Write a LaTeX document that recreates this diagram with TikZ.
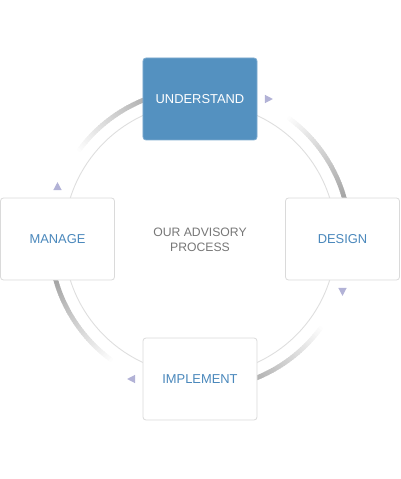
\documentclass[tikz,border=0pt]{standalone}
\usepackage{fontspec}
\setmainfont{Liberation Sans}
\usepackage{xcolor}
\usetikzlibrary{positioning,calc}

\definecolor{stepblue}{RGB}{84,145,192}
\definecolor{labelblue}{RGB}{74,136,188}
\definecolor{ringgray}{RGB}{222,222,222}
\definecolor{framegray}{RGB}{218,218,218}
\definecolor{tipviolet}{RGB}{178,178,214}
\definecolor{centergray}{RGB}{118,118,118}

\begin{document}
\begin{tikzpicture}[
  x=1pt,
  y=1pt,
  ring/.style={draw=ringgray, line width=0.9pt},
  sweep/.style={line width=4.6pt},
  stagebox/.style={draw=framegray, line width=0.8pt, fill=white, rounded corners=3pt,
    minimum width=114pt, minimum height=82pt, inner sep=0pt,
    font=\fontsize{12.9}{15}\selectfont, text=labelblue},
  activebox/.style={stagebox, fill=stepblue, draw=stepblue!75!white, text=white},
  tip/.style={fill=tipviolet},
  caption/.style={font=\fontsize{12.2}{15}\selectfont, text=centergray, align=center}
]

% Canvas: origin at the centre of the cycle, 400 x 479 overall.
\useasboundingbox (-200,-240) rectangle (200,239);

% Thin ring through the four stages.
\draw[ring] (0,0) circle (136pt);

% Thick arcs, faded at the start and darker towards the next stage (clockwise).
\foreach \s in {145,55,-35,-125} {
  \foreach \i in {0,...,39} {
    \pgfmathsetmacro{\shade}{36*\i/39}
    \draw[sweep, draw=black!\shade] (\s-\i:150) arc[start angle=\s-\i, end angle=\s-\i-1.4, radius=150pt];
  }
}

% Stages.
\node[activebox] (und) at (0,140) {UNDERSTAND};
\node[stagebox] (des) at (142.5,0) {DESIGN};
\node[stagebox] (imp) at (0,-140) {IMPLEMENT};
\node[stagebox] (man) at (-142.5,0) {MANAGE};

\node[caption] (core) at (0,-1) {OUR ADVISORY\\PROCESS};

% Small direction tips beside each stage.
\foreach \b/\a in {und/0,des/-90,imp/180,man/90} {
  \fill[tip, shift={($(\b.\a)+(\a:11.5)$)}, rotate=\a] (4,0) -- (-4,4.2) -- (-4,-4.2) -- cycle;
}
\end{tikzpicture}
\end{document}
